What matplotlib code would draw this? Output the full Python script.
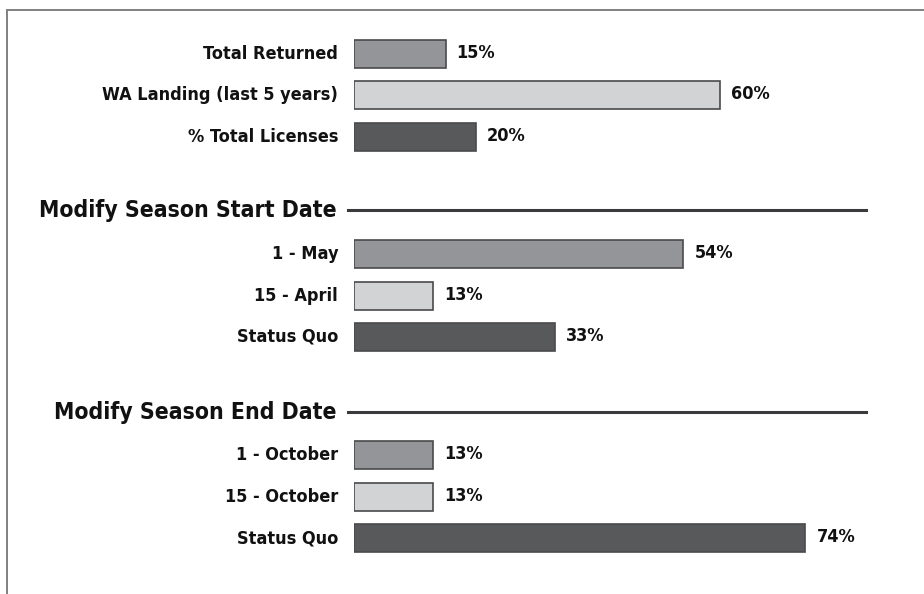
import matplotlib
matplotlib.use("Agg")
import matplotlib.pyplot as plt
from matplotlib.lines import Line2D

# ---- data ----
group_titles = ["", "Modify Season Start Date", "Modify Season End Date"]
cats_overview = ["Total Returned", "WA Landing (last 5 years)", "% Total Licenses"]
vals_overview = [15, 60, 20]
cats_start = ["1 - May", "15 - April", "Status Quo"]
vals_start = [54, 13, 33]
cats_end = ["1 - October", "15 - October", "Status Quo"]
vals_end = [13, 13, 74]
bar_colors = ["#939598", "#d1d3d4", "#58595b"]

groups = [(cats_overview, vals_overview), (cats_start, vals_start), (cats_end, vals_end)]

# ---- font ----
plt.rcParams["font.family"] = ["DejaVu Sans"]
FS = dict(fontweight="bold", fontstretch="condensed", color="#111111")

W, H = 924, 594
fig = plt.figure(figsize=(W / 100, H / 100), dpi=100)
fig.patch.set_facecolor("white")

x0 = 354          # pixel where bars start
px_per_pct = 6.1
ax = fig.add_axes([x0 / W, 0, (W - x0) / W, 1])
ax.set_xlim(0, (W - x0) / px_per_pct)
ax.set_ylim(H, 0)
ax.axis("off")

# layout (pixel rows)
row_centers = [[54, 95, 137], [254, 296, 337], [455, 497, 538]]
header_y = [None, 210, 412]
bar_h = 28

for gi, (cats, vals) in enumerate(groups):
    ys = row_centers[gi]
    ax.barh(ys, vals, height=bar_h, color=bar_colors,
            edgecolor="#4a4a4c", linewidth=1.2)
    for y, c, v in zip(ys, cats, vals):
        ax.annotate(c, xy=(0, y), xytext=(-16, 0), textcoords="offset pixels",
                    ha="right", va="center", fontsize=13, **FS)
        ax.annotate(f"{v}%", xy=(v, y), xytext=(11, 1), textcoords="offset pixels",
                    ha="left", va="center", fontsize=13, **FS)
    if group_titles[gi]:
        hy = header_y[gi]
        ax.annotate(group_titles[gi], xy=(0, hy), xytext=(-17, 0),
                    textcoords="offset pixels", ha="right", va="center",
                    fontsize=16.5, **FS)
        fig.add_artist(Line2D([(x0 - 6) / W, 866 / W], [1 - hy / H, 1 - hy / H],
                              color="#3a3a3c", linewidth=2.2))

# border lines
fig.add_artist(Line2D([7 / W, 1], [1 - 10 / H, 1 - 10 / H], color="#808080", linewidth=1.4))
fig.add_artist(Line2D([7 / W, 7 / W], [1 - 10 / H, 0], color="#808080", linewidth=1.4))

fig.savefig("out.png", dpi=100, facecolor="white")
